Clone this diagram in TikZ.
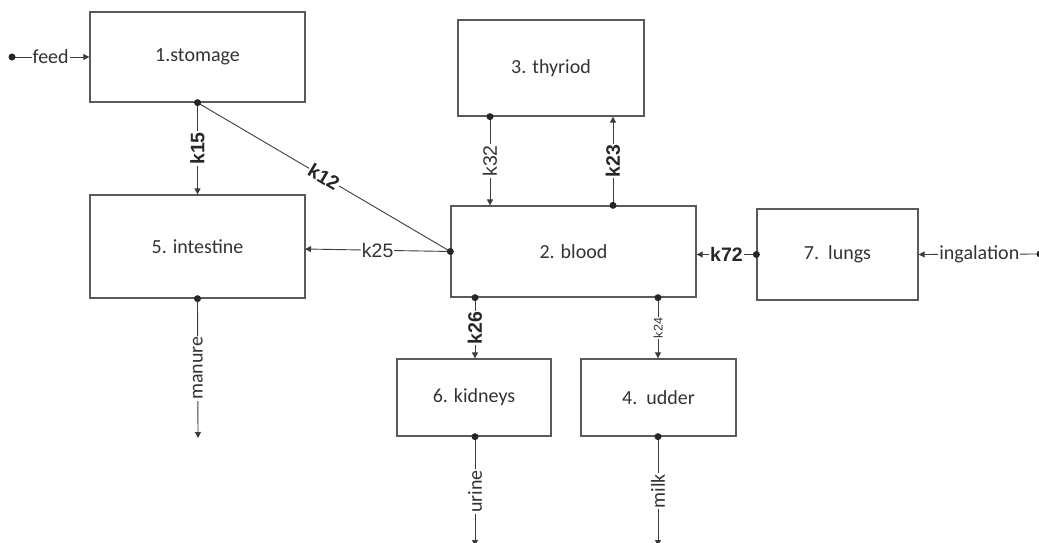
\documentclass[tikz,border=0pt]{standalone}
\usepackage{fontspec}
\setmainfont{Carlito}
\newfontfamily\arialf{Liberation Sans}
\usetikzlibrary{arrows.meta}
\definecolor{boxgray}{HTML}{5A5A5A}
\definecolor{linegray}{HTML}{3C3C3C}
\definecolor{txtgray}{HTML}{333333}
\begin{document}
\begin{tikzpicture}[x=1pt,y=-1pt,
  box/.style={draw=boxgray, line width=1.3pt, inner sep=0pt, text=txtgray,
    font=\fontsize{20}{24}\selectfont},
  flow/.style={draw=linegray, line width=0.9pt, -{Triangle[length=6pt,width=6pt]}},
  plain/.style={draw=linegray, line width=0.9pt},
  dotn/.style={circle, fill=black!85, inner sep=0pt, minimum size=7pt},
  lbl/.style={fill=white, inner sep=1pt, text=txtgray, font=\fontsize{20}{24}\selectfont},
  klbl/.style={fill=white, inner sep=1pt, text=txtgray, font=\arialf\fontsize{19.5}{23}\selectfont},
  kbold/.style={fill=white, inner sep=1pt, text=black!85, font=\arialf\bfseries\fontsize{19.5}{23}\selectfont},
  ksmall/.style={fill=white, inner sep=1pt, text=txtgray, font=\arialf\fontsize{12.5}{15}\selectfont}]
\useasboundingbox (0,0) rectangle (1039,543);

% boxes
\node[box, minimum width=215pt, minimum height=90pt] (s1) at (197.5,57) {1.stomage};
\node[box, minimum width=215pt, minimum height=103pt] (s5) at (197.5,246.5) {5. intestine};
\node[box, minimum width=186pt, minimum height=96pt] (s3) at (551,68) {3. thyriod};
\node[box, minimum width=245pt, minimum height=91pt] (b2) at (573.5,251.5) {2. blood};
\node[box, minimum width=161pt, minimum height=91pt] (s7) at (837.5,254.5) {7.\ \ lungs};
\node[box, minimum width=154pt, minimum height=77pt] (s6) at (474,397.5) {6. kidneys};
\node[box, minimum width=155pt, minimum height=77pt] (s4) at (658.5,397.5) {4.\ \ udder};

% helper coordinates
\coordinate (feedin) at (12,57);
\coordinate (ingin) at (1040,254);
\coordinate (x490) at (490,0);
\coordinate (x613) at (613,0);
\coordinate (x475) at (475,0);
\coordinate (x658) at (658,0);
\coordinate (manout) at (198,438);
\coordinate (urout) at (475,546);
\coordinate (milkout) at (658,546);
\coordinate (intin) at (305,249);

% connectors
\draw[flow] (feedin) -- node[lbl] {feed} (s1.west);
\draw[flow] (s1.south) -- node[kbold, rotate=90] {k15} (s5.north);
\draw[plain] (s1.south) -- node[kbold, sloped] {k12} (b2.west);
\draw[flow] (b2.west) -- node[klbl] {k25} (intin);
\draw[flow] (s3.south -| x490) -- node[klbl, rotate=90] {k32} (b2.north -| x490);
\draw[flow] (b2.north -| x613) -- node[kbold, rotate=90] {k23} (s3.south -| x613);
\draw[flow] (s7.west) -- node[kbold] {k72} (b2.east |- s7.west);
\draw[flow] (ingin) -- node[lbl] {ingalation} (s7.east);
\draw[flow] (b2.south -| x475) -- node[kbold, rotate=90] {k26} (s6.north -| x475);
\draw[flow] (b2.south -| x658) -- node[ksmall, rotate=90] {k24} (s4.north -| x658);
\draw[flow] (s5.south) -- node[lbl, rotate=90] {manure} (manout);
\draw[flow] (s6.south -| x475) -- node[lbl, rotate=90] {urine} (urout);
\draw[flow] (s4.south -| x658) -- node[lbl, rotate=90] {milk} (milkout);

% dots
\node[dotn] at (feedin) {};
\node[dotn] at (ingin) {};
\node[dotn] at (s1.south) {};
\node[dotn] at (b2.west) {};
\node[dotn] at (s3.south -| x490) {};
\node[dotn] at (b2.north -| x613) {};
\node[dotn] at (s7.west) {};
\node[dotn] at (b2.south -| x475) {};
\node[dotn] at (b2.south -| x658) {};
\node[dotn] at (s5.south) {};
\node[dotn] at (s6.south -| x475) {};
\node[dotn] at (s4.south -| x658) {};
\end{tikzpicture}
\end{document}
